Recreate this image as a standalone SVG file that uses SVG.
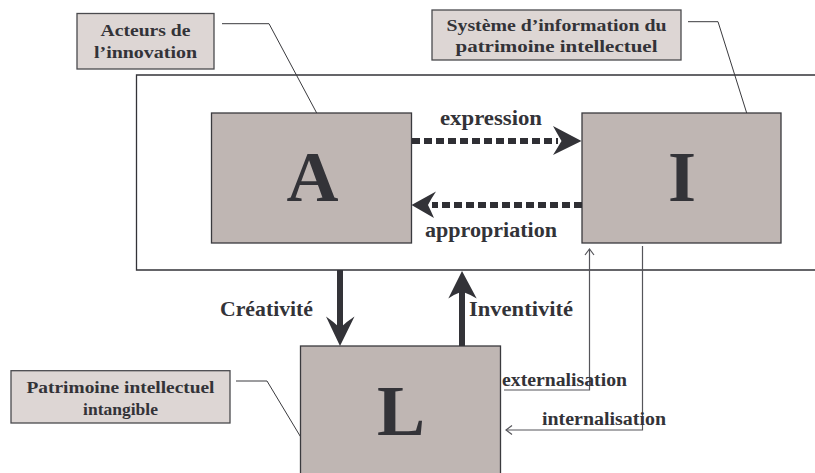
<svg xmlns="http://www.w3.org/2000/svg" width="815" height="473" viewBox="0 0 815 473">
<style>
.node{fill:#bfb6b3;stroke:#3a3a3e;stroke-width:1.3}
.lbl{fill:#ddd6d4;stroke:#4a4a4e;stroke-width:1.3}
.big{font-family:"Liberation Serif",serif;font-weight:bold;font-size:72px;fill:#333338;text-anchor:middle}
.t{font-family:"Liberation Serif",serif;font-weight:bold;fill:#333338}
.t21{font-size:21px}
.t18{font-size:18px}
.t17{font-size:17.5px}
.lead{fill:none;stroke:#3a3a3e;stroke-width:1}
.frame{fill:none;stroke:#333338;stroke-width:1.3}
.dots{fill:none;stroke:#2f2f34;stroke-width:6;stroke-dasharray:8 4}
.shaft{fill:none;stroke:#333338;stroke-width:6}
.head{fill:#333338;stroke:none}
.thin{fill:none;stroke:#55555a;stroke-width:1.2}
</style>
<rect x="0" y="0" width="815" height="473" fill="#ffffff"/>
<g id="frame">
<path class="frame" d="M815,75 H136.5 V270 H815"/>
</g>
<g id="node-A">
<rect class="node" x="211.5" y="113" width="200" height="130"/>
<text class="big" x="312.5" y="201">A</text>
</g>
<g id="node-I">
<rect class="node" x="582" y="113" width="199" height="130"/>
<text class="big" x="682" y="201">I</text>
</g>
<g id="node-L">
<rect class="node" x="300.5" y="346" width="200" height="140"/>
<text class="big" x="401" y="435">L</text>
</g>
<g id="label-acteurs">
<rect class="lbl" x="77" y="13.5" width="137" height="55.5"/>
<text class="t t17" x="145.5" y="35.5" text-anchor="middle" textLength="90" lengthAdjust="spacingAndGlyphs">Acteurs de</text>
<text class="t t17" x="145.5" y="58" text-anchor="middle" textLength="103" lengthAdjust="spacingAndGlyphs">l’innovation</text>
<path class="lead" d="M222,23.7 H269 L316.7,113"/>
</g>
<g id="label-systeme">
<rect class="lbl" x="432" y="10" width="249" height="50"/>
<text class="t t17" x="556.5" y="31" text-anchor="middle" textLength="220" lengthAdjust="spacingAndGlyphs">Système d’information du</text>
<text class="t t17" x="556.5" y="52" text-anchor="middle" textLength="202" lengthAdjust="spacingAndGlyphs">patrimoine intellectuel</text>
<path class="lead" d="M688,21.7 H718 L746.7,113"/>
</g>
<g id="label-patrimoine">
<rect class="lbl" x="11" y="370.7" width="219" height="52.3"/>
<text class="t t17" x="120.5" y="393.3" text-anchor="middle" textLength="188" lengthAdjust="spacingAndGlyphs">Patrimoine intellectuel</text>
<text class="t t17" x="120.5" y="414.5" text-anchor="middle">intangible</text>
<path class="lead" d="M236,381 H267 L300.5,436.7"/>
</g>
<g id="connectors">
<path class="dots" d="M412,141 H558"/>
<path class="head" d="M581.5,141 L553,126 Q558,135 561.5,141 Q558,147 553,155 Z"/>
<path class="dots" d="M582,205 H432"/>
<path class="head" d="M411.5,205 L436,191.5 Q431,199 428,205 Q431,211 434,218 Z"/>
<path class="shaft" d="M340,270 V330"/>
<path class="head" d="M340,346 L326,316.5 Q334,322 340,328 Q346,322 354.5,316.5 Z"/>
<path class="shaft" d="M462,346 V288"/>
<path class="head" d="M462,271 L448.3,298.5 Q455,294 462,291.5 Q469,294 476.7,298.5 Z"/>
<path class="thin" d="M504,390 H589.5 V249"/>
<path class="thin" d="M585,255 L589.5,249 L594,255"/>
<path class="thin" d="M642.5,246 V430 H506"/>
<path class="thin" d="M512,425.5 L506,430 L512,434.5"/>
</g>
<g id="edge-labels">
<text class="t t21" x="491" y="125" text-anchor="middle" textLength="102" lengthAdjust="spacingAndGlyphs">expression</text>
<text class="t t21" x="491" y="237" text-anchor="middle" textLength="132" lengthAdjust="spacingAndGlyphs">appropriation</text>
<text class="t t21" x="220" y="316" textLength="93" lengthAdjust="spacingAndGlyphs">Créativité</text>
<text class="t t21" x="469" y="316" textLength="104" lengthAdjust="spacingAndGlyphs">Inventivité</text>
<text class="t t18" x="502" y="386" textLength="125" lengthAdjust="spacingAndGlyphs">externalisation</text>
<text class="t t18" x="542" y="425" textLength="124" lengthAdjust="spacingAndGlyphs">internalisation</text>
</g>
</svg>
